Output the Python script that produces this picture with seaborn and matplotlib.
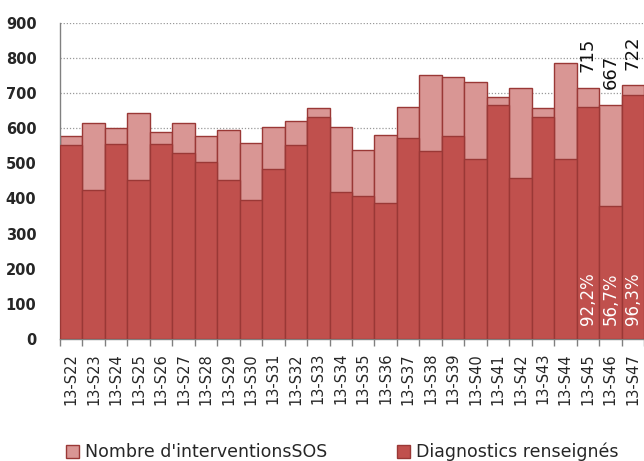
import matplotlib
matplotlib.use("Agg")
import matplotlib.pyplot as plt
import seaborn as sns
import pandas as pd
from matplotlib.patches import Patch
from matplotlib.ticker import FixedLocator

weeks = ["13-S22", "13-S23", "13-S24", "13-S25", "13-S26", "13-S27", "13-S28",
         "13-S29", "13-S30", "13-S31", "13-S32", "13-S33", "13-S34", "13-S35",
         "13-S36", "13-S37", "13-S38", "13-S39", "13-S40", "13-S41", "13-S42",
         "13-S43", "13-S44", "13-S45", "13-S46", "13-S47"]
interventions = [577, 614, 599, 642, 588, 614, 577, 595, 559, 604, 619, 658, 604,
                 539, 581, 659, 752, 746, 730, 690, 713, 658, 785, 715, 667, 722]
diagnostics = [551, 424, 556, 451, 556, 529, 505, 451, 396, 484, 551, 632, 418,
               408, 387, 573, 534, 578, 512, 665, 457, 632, 512, 659, 378, 695]
annotated_weeks = ["13-S45", "13-S46", "13-S47"]
total_labels = ["715", "667", "722"]
pct_labels = ["92,2%", "56,7%", "96,3%"]
yticks = [0, 100, 200, 300, 400, 500, 600, 700, 800, 900]
legend_labels = ["Nombre d'interventionsSOS", "Diagnostics renseignés"]

light = "#D99694"
dark = "#C0504D"
edge = "#9A3836"

df = pd.DataFrame({"week": weeks, "interventions": interventions,
                   "diagnostics": diagnostics})

sns.set_style("white")
plt.rcParams["font.family"] = ["DejaVu Sans"]

fig = plt.figure(figsize=(6.44, 4.61), dpi=100)
ax = fig.add_axes([60 / 644, 1 - 339 / 461, 584 / 644, (339 - 22.7) / 461])

sns.barplot(data=df, x="week", y="interventions", color=light, width=1.0,
            edgecolor=edge, linewidth=1.0, saturation=1, ax=ax, zorder=2)
sns.barplot(data=df, x="week", y="diagnostics", color=dark, width=1.0,
            edgecolor=edge, linewidth=1.0, saturation=1, ax=ax, zorder=3)

ax.set_xlim(-0.5, len(weeks) - 0.5)
ax.set_ylim(0, 900)
ax.set_yticks(yticks)
ax.set_yticklabels([str(v) for v in yticks], fontsize=10.5, fontweight="bold",
                   color="#262626")
ax.tick_params(axis="y", length=0, pad=17)
ax.yaxis.grid(True, linestyle=(0, (1, 1.5)), color="#999999", linewidth=0.9)
ax.xaxis.grid(False)
ax.set_axisbelow(True)

ax.set_xticks(range(len(weeks)))
ax.set_xticklabels(weeks, rotation=90, fontsize=10.5, color="#262626")
ax.tick_params(axis="x", which="major", length=0, pad=10)
ax.xaxis.set_minor_locator(FixedLocator([i - 0.5 for i in range(len(weeks) + 1)]))
ax.tick_params(axis="x", which="minor", length=5, color="#808080", width=1,
               direction="out", bottom=True)
ax.set_xlabel("")
ax.set_ylabel("")

for s in ["top", "right"]:
    ax.spines[s].set_visible(False)
for s in ["left", "bottom"]:
    ax.spines[s].set_color("#808080")
    ax.spines[s].set_linewidth(1.0)

for wk, tl, pl in zip(annotated_weeks, total_labels, pct_labels):
    i = weeks.index(wk)
    ax.annotate(tl, xy=(i, interventions[i]), xytext=(0, 11),
                textcoords="offset points", rotation=90, ha="center",
                va="bottom", fontsize=13, color="#111111", zorder=5)
    ax.annotate(pl, xy=(i, 0), xytext=(0, 10), textcoords="offset points",
                rotation=90, ha="center", va="bottom", fontsize=12,
                color="white", zorder=5)

handles = [Patch(facecolor=light, edgecolor=edge, linewidth=1.0),
           Patch(facecolor=dark, edgecolor=edge, linewidth=1.0)]
fig.legend(handles, legend_labels, loc="center left",
           bbox_to_anchor=(66 / 644, 1 - 452 / 461), ncol=2, frameon=False,
           fontsize=12.5, handlelength=0.75, handleheight=0.75,
           handletextpad=0.35, columnspacing=4.0, borderpad=0,
           borderaxespad=0)

fig.savefig("out.png", dpi=100)
